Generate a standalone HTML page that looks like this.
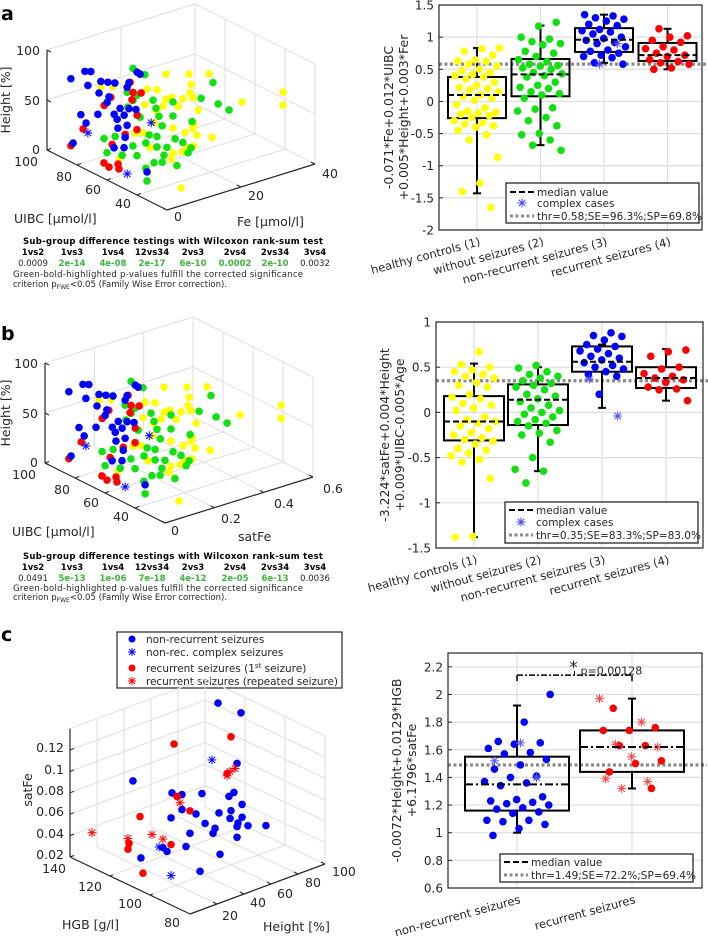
<!DOCTYPE html>
<html><head><meta charset="utf-8">
<style>
body{margin:0;background:#fff}
svg{display:block;font-family:"DejaVu Sans","Liberation Sans",sans-serif;fill:#262626}
.t{font-size:12.5px}
.s{font-size:8.5px}
.b{font-weight:bold}
.g{fill:#3cb43c;font-weight:bold}
.lg{font-size:10.5px}
</style></head><body>
<svg id="fig" width="708" height="936" viewBox="0 0 708 936">
<rect x="0" y="0" width="708" height="936" fill="#fff"/>
<text x="1" y="20" font-size="19" font-weight="bold" fill="#000">a</text>
<text x="1" y="340" font-size="19" font-weight="bold" fill="#000">b</text>
<text x="1" y="641" font-size="19" font-weight="bold" fill="#000">c</text>

<g class="t">
<text x="40" y="55" text-anchor="end">100</text><text x="40" y="105" text-anchor="end">50</text><text x="40" y="154" text-anchor="end">0</text>
<text x="38" y="166" text-anchor="end">100</text><text x="72" y="181" text-anchor="end">80</text><text x="101" y="194" text-anchor="end">60</text><text x="131" y="208" text-anchor="end">40</text>
<text x="174" y="221">0</text><text x="248" y="200">20</text><text x="322" y="178">40</text>
</g>
<text class="t" transform="translate(10,100) rotate(-90)" text-anchor="middle">Height [%]</text>
<text class="t" x="14" y="223">UIBC [μmol/l]</text>
<text class="t" x="237" y="226">Fe [μmol/l]</text>

<g>
<text class="s b" x="173" y="244" text-anchor="middle" textLength="300" fill="#000">Sub-group difference testings with Wilcoxon rank-sum test</text>
<g class="s b" text-anchor="middle" fill="#000"><text x="33" y="255">1vs2</text><text x="72" y="255">1vs3</text><text x="113" y="255">1vs4</text><text x="152" y="255">12vs34</text><text x="193" y="255">2vs3</text><text x="235" y="255">2vs4</text><text x="275" y="255">2vs34</text><text x="315" y="255">3vs4</text></g>
<g class="s" text-anchor="middle"><text x="33" y="266">0.0009</text><text class="g" x="72" y="266">2e-14</text><text class="g" x="113" y="266">4e-08</text><text class="g" x="152" y="266">2e-17</text><text class="g" x="193" y="266">6e-10</text><text class="g" x="235" y="266">0.0002</text><text class="g" x="275" y="266">2e-10</text><text x="315" y="266">0.0032</text></g>
<text class="s" x="13" y="277" textLength="290">Green-bold-highlighted p-values fulfill the corrected significance</text>
<text class="s" x="13" y="287">criterion p<tspan font-size="6" dy="2">FWE</tspan><tspan dy="-2">&lt;0.05 (Family Wise Error correction).</tspan></text>
</g>

<g class="t">
<text x="38" y="368" text-anchor="end">100</text><text x="38" y="418" text-anchor="end">50</text><text x="38" y="467" text-anchor="end">0</text>
<text x="36" y="479" text-anchor="end">100</text><text x="70" y="494" text-anchor="end">80</text><text x="99" y="507" text-anchor="end">60</text><text x="129" y="521" text-anchor="end">40</text>
<text x="171" y="535">0</text><text x="221" y="523">0.2</text><text x="274" y="508">0.4</text><text x="323" y="493">0.6</text>
</g>
<text class="t" transform="translate(10,413) rotate(-90)" text-anchor="middle">Height [%]</text>
<text class="t" x="12" y="536">UIBC [μmol/l]</text>
<text class="t" x="238" y="541">satFe</text>

<g>
<text class="s b" x="173" y="559" text-anchor="middle" textLength="300" fill="#000">Sub-group difference testings with Wilcoxon rank-sum test</text>
<g class="s b" text-anchor="middle" fill="#000"><text x="33" y="570">1vs2</text><text x="72" y="570">1vs3</text><text x="113" y="570">1vs4</text><text x="152" y="570">12vs34</text><text x="193" y="570">2vs3</text><text x="235" y="570">2vs4</text><text x="275" y="570">2vs34</text><text x="315" y="570">3vs4</text></g>
<g class="s" text-anchor="middle"><text x="33" y="581">0.0491</text><text class="g" x="72" y="581">5e-13</text><text class="g" x="113" y="581">1e-06</text><text class="g" x="152" y="581">7e-18</text><text class="g" x="193" y="581">4e-12</text><text class="g" x="235" y="581">2e-05</text><text class="g" x="275" y="581">6e-13</text><text x="315" y="581">0.0036</text></g>
<text class="s" x="13" y="591" textLength="290">Green-bold-highlighted p-values fulfill the corrected significance</text>
<text class="s" x="13" y="600">criterion p<tspan font-size="6" dy="2">FWE</tspan><tspan dy="-2">&lt;0.05 (Family Wise Error correction).</tspan></text>
</g>

<g class="t">
<text x="64" y="859" text-anchor="end">0.02</text><text x="64" y="838" text-anchor="end">0.04</text><text x="64" y="816" text-anchor="end">0.06</text><text x="64" y="795" text-anchor="end">0.08</text><text x="64" y="774" text-anchor="end">0.1</text><text x="64" y="752" text-anchor="end">0.12</text>
<text x="66" y="873" text-anchor="end">140</text><text x="102" y="891" text-anchor="end">120</text><text x="142" y="908" text-anchor="end">100</text><text x="180" y="927" text-anchor="end">80</text>
<text x="222" y="920">20</text><text x="250" y="907">40</text><text x="277" y="898">60</text><text x="305" y="887">80</text><text x="332" y="876">100</text>
</g>
<text class="t" transform="translate(32,790) rotate(-90)" text-anchor="middle">satFe</text>
<text class="t" x="62" y="929">HGB [g/l]</text>
<text class="t" x="263" y="931">Height [%]</text>

<g>
<rect x="117" y="632" width="225" height="56" fill="#fff" stroke="#262626" stroke-width="1.2"/>
<circle cx="132" cy="639" r="3.5" fill="#00f"/>
<g stroke="#00f" stroke-width="1"><line x1="128" y1="652" x2="136" y2="652"/><line x1="132" y1="648" x2="132" y2="656"/><line x1="129" y1="649" x2="135" y2="655"/><line x1="135" y1="649" x2="129" y2="655"/></g>
<circle cx="132" cy="668" r="3.5" fill="#f00"/>
<g stroke="#f00" stroke-width="1"><line x1="128" y1="681" x2="136" y2="681"/><line x1="132" y1="677" x2="132" y2="685"/><line x1="129" y1="678" x2="135" y2="684"/><line x1="135" y1="678" x2="129" y2="684"/></g>
<g class="lg"><text x="146" y="643">non-recurrent seizures</text><text x="146" y="656">non-rec. complex seizures</text><text x="146" y="672">recurrent seizures (1<tspan font-size="7" dy="-4">st</tspan><tspan dy="4"> seizure)</tspan></text><text x="146" y="685" textLength="192">recurrent seizures (repeated seizure)</text></g>
</g>
<g id="dyn"></g>
</svg>
<script>
const aVals1=[0.83,0.82,0.78,0.72,0.65,0.63,0.62,0.58,0.55,0.5,0.48,0.45,0.42,0.4,0.38,0.35,0.3,0.25,0.22,0.2,0.18,0.15,0.1,0.08,0.05,0.02,-0.05,-0.1,-0.15,-0.17,-0.18,-0.2,-0.22,-0.25,-0.3,-0.33,-0.35,-0.38,-0.4,-0.45,-0.52,-0.6,-0.87,-1.27,-1.4,-1.65];
const aVals2=[1.23,1.17,1.0,0.97,0.93,0.9,0.88,0.78,0.75,0.7,0.65,0.62,0.58,0.56,0.55,0.52,0.5,0.45,0.43,0.4,0.38,0.3,0.25,0.22,0.2,0.15,0.12,0.1,0.05,-0.1,-0.12,-0.15,-0.25,-0.3,-0.38,-0.5,-0.52,-0.6,-0.68,-0.76];
const aVals3=[1.35,1.33,1.3,1.28,1.25,1.2,1.18,1.12,1.1,1.08,1.05,1.0,0.98,0.95,0.92,0.9,0.85,0.8,0.78,0.75,0.72,0.7,0.68,0.6,0.58];
const aVals4=[1.13,1.02,1.0,0.95,0.92,0.85,0.82,0.8,0.75,0.72,0.7,0.65,0.62,0.6,0.58,0.52,0.5];
const aStarVals=[0.9,0.58];
const aQ1=[-0.26,0.08,0.77,0.63], aMed=[0.1,0.42,0.96,0.72], aQ3=[0.38,0.66,1.14,0.91], aWlo=[-1.43,-0.68,0.6,0.5], aWhi=[0.83,1.18,1.35,1.13];
const aThr=0.58;
const aYTicks=[-2,-1.5,-1,-0.5,0,0.5,1,1.5];
const aYTickLabels=['-2','-1.5','-1','-0.5','0','0.5','1','1.5'];

const bVals1=[0.67,0.53,0.5,0.47,0.45,0.42,0.4,0.38,0.33,0.3,0.28,0.2,0.17,0.15,0.1,0.08,0.05,0.02,-0.05,-0.08,-0.1,-0.12,-0.15,-0.18,-0.22,-0.25,-0.28,-0.3,-0.32,-0.35,-0.4,-0.42,-0.45,-0.48,-0.52,-0.55,-0.73,-1.37,-1.38];
const bVals2=[0.52,0.49,0.45,0.42,0.4,0.38,0.35,0.32,0.3,0.28,0.25,0.2,0.18,0.15,0.12,0.08,0.05,0.02,0,-0.02,-0.05,-0.08,-0.1,-0.12,-0.15,-0.2,-0.23,-0.25,-0.33,-0.5,-0.63,-0.65,-0.78];
const bVals3=[0.88,0.85,0.84,0.8,0.75,0.73,0.7,0.68,0.65,0.62,0.6,0.58,0.55,0.52,0.5,0.48,0.45,0.42,0.4,0.2];
const bVals4=[0.69,0.67,0.62,0.5,0.48,0.43,0.4,0.38,0.36,0.33,0.28,0.26,0.25,0.13];
const bStarVals=[0.37,-0.04];
const bQ1=[-0.31,-0.14,0.45,0.27], bMed=[-0.1,0.14,0.56,0.38], bQ3=[0.18,0.31,0.73,0.5], bWlo=[-1.38,-0.65,0.05,0.13], bWhi=[0.54,0.5,0.75,0.7];
const bThr=0.35;
const bYTicks=[-1.5,-1,-0.5,0,0.5,1];
const bYTickLabels=['-1.5','-1','-0.5','0','0.5','1'];

const cNonVals=[2.0,1.8,1.66,1.65,1.64,1.61,1.58,1.57,1.53,1.49,1.46,1.41,1.4,1.37,1.36,1.34,1.26,1.24,1.23,1.22,1.21,1.2,1.18,1.17,1.15,1.14,1.09,1.09,1.08,1.06,1.03,0.98];
const cNonStarVals=[1.65,1.52,1.4];
const cRecVals=[1.9,1.76,1.74,1.74,1.63,1.63,1.52,1.5,1.44,1.32];
const cRecStarVals=[1.97,1.8,1.64,1.62,1.55,1.39,1.37,1.32];
const cQ1=[1.16,1.44], cMed=[1.35,1.62], cQ3=[1.55,1.74], cWlo=[1.0,1.32], cWhi=[1.92,1.97];
const cThr=1.49;
const cYTicks=[0.6,0.8,1,1.2,1.4,1.6,1.8,2,2.2];
const cYTickLabels=['0.6','0.8','1','1.2','1.4','1.6','1.8','2','2.2'];

const blueU=[90,90,90,90,90,90,90,90,90,90,90,90,90,90,90,90,90,90,90,90,90,90,90,90,90,60,60,60,90,40];
const blueH=[76,79,77,64,64,61,58,53,46,41,54,50,62,59,37,27,32,27,31,28,25,21,23,12,12,37,30,27,11,20];
const aBlueFe=[2.4,6.2,7.8,7.0,10.5,12.4,14.3,10,12.7,12.2,18.1,17.6,20.3,21.1,5.1,6.5,9.7,14.1,15.7,18.1,20,14.9,16.8,15.1,17.6,4.9,1.9,4.6,3,2.7];
const bBlueSat=[0.036,0.093,0.117,0.105,0.158,0.186,0.215,0.15,0.19,0.183,0.272,0.264,0.305,0.317,0.077,0.098,0.146,0.212,0.236,0.272,0.3,0.224,0.252,0.227,0.264,0.074,0.029,0.069,0.045,0.041];
const blueStarU=[90,90,50], blueStarH=[16.5,7,12];
const aBlueStarFe=[7,24.1,1.4], bBlueStarSat=[0.105,0.362,0.021];
const redU=[90,90,90,90,90,90,90,90,60,60,60,64.5,61.1,55.1,54.5,90];
const redH=[9,22,39,45,54,43,40,19,41,40,34,12.5,11,18.5,14,36];
const aRedFe=[2.4,5.7,11.4,13.2,18.4,19.2,21.4,20.3,8.1,4.9,1.4,1,1,1,1,18.9];
const bRedSat=[0.036,0.086,0.171,0.198,0.276,0.288,0.321,0.305,0.122,0.074,0.021,0.015,0.015,0.015,0.015,0.284];
const greenU=[90,90,90,90,90,60,90,90,90,90,90,90,90,60,90,60,80,60,60,60,60,60,60,60,60,80,60,60,60,60,60,40,40,40,40,40,60,90,90];
const greenH=[67,57,28,16,5,32,29,21,20,30,35,16,11,37,7,32,18,41,32,28,20,14,26,25,15,3,7,17.5,14,2,6,27,25,17,24,11,20,39,45];
const aGreenFe=[19.2,22.4,40.8,37.6,42.2,33,24.6,30,25.4,17.8,19.2,21.1,26.2,14.9,30,23,7.3,2.2,11.4,13.5,18.4,20.5,7,10.5,8.1,8.1,15.4,13.5,16.2,21.9,22.7,4.6,6.8,10.8,2.4,2.7,4.1,20.3,17.6];
const bGreenSat=[0.288,0.336,0.612,0.564,0.633,0.495,0.369,0.45,0.381,0.267,0.288,0.317,0.393,0.224,0.45,0.345,0.11,0.033,0.171,0.203,0.276,0.308,0.105,0.158,0.122,0.122,0.231,0.203,0.243,0.329,0.341,0.069,0.102,0.162,0.036,0.041,0.062,0.305,0.264];
const yellowU=[90,90,90,90,90,90,90,90,90,90,90,90,90,90,90,60,60,60,60,60,60,60,60,60,60,60,60,40,40,20,90,60,60,60,51.3,90,90,90,60];
const yellowH=[51,44,38,33,25,19,21,26,26,38,42,27,20,15,5,36,33,20,31.5,28,25,23,17,10,7,8,6.5,25,17,17.6,6,36,38,19,28.5,18,55,58,5];
const aYellowFe=[28.1,34.3,39.7,34.9,34.6,35.4,32.7,28.1,29.7,25.7,23,22.4,27.3,31.4,36.8,36.5,47.6,47.6,17.8,23.5,23.2,21.1,24.3,28.4,23.5,21.6,17.8,9.2,10.8,3.8,24.9,9.7,7.6,11.6,0,25.4,13.8,10.5,20.3];
const bYellowSat=[0.422,0.515,0.596,0.524,0.519,0.531,0.491,0.422,0.446,0.386,0.345,0.336,0.41,0.471,0.552,0.548,0.714,0.714,0.267,0.353,0.348,0.317,0.365,0.426,0.353,0.324,0.267,0.138,0.162,0.057,0.374,0.146,0.114,0.174,0,0.381,0.207,0.158,0.305];

const cBlueHt=[65.2,82.2,24.4,79.3,31.1,38.5,53.3,73.3,77,83,38.5,48.9,65.9,74.8,30.4,55.6,74.1,83,80,79.3,87.4,100.7,63,61.5,44.4,79.3,41.5,24.4,27.4,66.7,8.1,51.9];
const cBlueHGB=[110,110,125,110,110,110,110,110,110,110,110,110,110,110,110,110,110,110,110,110,110,110,110,110,110,110,110,110,110,110,110,110];
const cBlueSat=[0.160,0.143,0.093,0.097,0.092,0.087,0.081,0.069,0.071,0.057,0.073,0.064,0.057,0.055,0.069,0.052,0.048,0.045,0.041,0.038,0.035,0.029,0.044,0.040,0.048,0.028,0.037,0.044,0.039,0.018,0.042,0.009];
const cBlueStarHt=[60.7,21.5,30.4], cBlueStarHGB=[110,110,110], cBlueStarSat=[0.109,0.046,0.015];
const cRedHt=[32.6,74.8,7.4,34.8,44.4,71.9,21.5,20.7,30.4,9.6];
const cRedHGB=[110,110,110,110,110,110,125,125,110,110];
const cRedSat=[0.137,0.124,0.081,0.087,0.069,0.091,0.036,0.031,0.044,0.027];
const cRedStarHt=[77.8,74.1,37,8.9,20.7,16.3,24.4,71.9];
const cRedStarHGB=[110,110,110,135,125,110,110,110];
const cRedStarSat=[0.093,0.092,0.080,0.043,0.041,0.060,0.052,0.089];

const NS='http://www.w3.org/2000/svg';
const root=document.getElementById('dyn');
function mk(tag,attrs,name,parent){
  const el=document.createElementNS(NS,tag);
  for(const k in attrs) el.setAttribute(k,attrs[k]);
  
  
  (parent||root).appendChild(el);
  return el;
}
function ln(p,q,stroke,w,name,parent,dash){
  const a={x1:p[0],y1:p[1],x2:q[0],y2:q[1],stroke:stroke,'stroke-width':w};
  if(dash) a['stroke-dasharray']=dash;
  return mk('line',a,name,parent);
}
function dot(p,r,col,name,parent){return mk('circle',{cx:p[0],cy:p[1],r:r,fill:col},name,parent);}
function star(p,r,col,name,parent){
  const g=mk('g',{stroke:col,'stroke-width':1},name,parent);
  const d=r*0.72;
  ln([p[0]-r,p[1]],[p[0]+r,p[1]],col,1,'star-stroke',g);
  ln([p[0],p[1]-r],[p[0],p[1]+r],col,1,'star-stroke',g);
  ln([p[0]-d,p[1]-d],[p[0]+d,p[1]+d],col,1,'star-stroke',g);
  ln([p[0]+d,p[1]-d],[p[0]-d,p[1]+d],col,1,'star-stroke',g);
  return g;
}
function txt(x,y,s,size,anchor,name,parent,tr){
  const a={x:x,y:y,'font-size':size,'text-anchor':anchor||'start'};
  if(tr) a.transform=tr;
  const t=mk('text',a,name,parent); t.textContent=s; return t;
}
function jit(i,spread){return ((((i+1)*0.61803398875+0.37)%1)-0.5)*2*spread;}
const GRID='#dedede', AX='#262626';
const GREEN='#11e011';

function Pa(U,F,H){return [47+1.5*(100-U)+3.7*F, 150+0.75*(100-U)-1.15*F-H];}
function Pb(U,S,H){return [45+1.5*(100-U)+246.67*S, 463+0.75*(100-U)-76.67*S-H];}
function draw3dAB(P,fmax,ticksF,pre){
  const g=mk('g',{},pre+'-3d-axes');
  [40,60,80].forEach(U=>ln(P(U,0,0),P(U,fmax,0),GRID,1,pre+'-floor-grid',g));
  ticksF.slice(1).forEach(F=>ln(P(100,F,0),P(20,F,0),GRID,1,pre+'-floor-grid',g));
  [50,100].forEach(H=>{ln(P(100,0,H),P(100,fmax,H),GRID,1,pre+'-wall-grid',g);ln(P(100,fmax,H),P(20,fmax,H),GRID,1,pre+'-wall-grid',g);});
  ticksF.slice(1).forEach(F=>ln(P(100,F,0),P(100,F,100),GRID,1,pre+'-wall-grid',g));
  [80,60,40,20].forEach(U=>ln(P(U,fmax,0),P(U,fmax,100),GRID,1,pre+'-wall-grid',g));
  ln(P(100,0,0),P(100,0,100),AX,1.2,pre+'-height-axis',g);
  ln(P(100,0,0),P(20,0,0),AX,1.2,pre+'-uibc-axis',g);
  ln(P(20,0,0),P(20,fmax,0),AX,1.2,pre+'-x-axis',g);
  [0,50,100].forEach(H=>{const p=P(100,0,H);ln(p,[p[0]+4,p[1]+2],AX,1,pre+'-tick',g);});
  [40,60,80,100].forEach(U=>{const p=P(U,0,0);ln(p,[p[0]+4,p[1]-1.5],AX,1,pre+'-tick',g);});
  ticksF.forEach(F=>{const p=P(20,F,0);ln(p,[p[0]-4,p[1]-2],AX,1,pre+'-tick',g);});
}
draw3dAB(Pa,40,[0,20,40],'a');
draw3dAB(Pb,0.6,[0,0.2,0.4,0.6],'b');

function scatter3(P,xs,us,hs,col,isStar,name){
  const g=mk('g',{},name);
  for(let i=0;i<xs.length;i++){
    const p=P(us[i],xs[i],hs[i]);
    if(isStar) star(p,4.5,col,'star-point',g); else dot(p,3.8,col,'dot-point',g);
  }
}
scatter3(Pa,aYellowFe,yellowU,yellowH,'#ffff00',false,'a3d-healthy-controls');
scatter3(Pa,aGreenFe,greenU,greenH,GREEN,false,'a3d-without-seizures');
scatter3(Pa,aRedFe,redU,redH,'#ff0000',false,'a3d-recurrent');
scatter3(Pa,aBlueFe,blueU,blueH,'#0000ff',false,'a3d-non-recurrent');
scatter3(Pa,aBlueStarFe,blueStarU,blueStarH,'#0000ff',true,'a3d-complex-cases');
scatter3(Pb,bYellowSat,yellowU,yellowH,'#ffff00',false,'b3d-healthy-controls');
scatter3(Pb,bGreenSat,greenU,greenH,GREEN,false,'b3d-without-seizures');
scatter3(Pb,bRedSat,redU,redH,'#ff0000',false,'b3d-recurrent');
scatter3(Pb,bBlueSat,blueU,blueH,'#0000ff',false,'b3d-non-recurrent');
scatter3(Pb,bBlueStarSat,blueStarU,blueStarH,'#0000ff',true,'b3d-complex-cases');

function Pc(H,G,S){return [70+2*(140-G)+1.35*H, 857+0.95*(140-G)-0.5*H-1070*(S-0.02)];}
(function(){
  const g=mk('g',{},'c-3d-axes');
  const sT=[0.04,0.06,0.08,0.1,0.12,0.14];
  [80,100,120].forEach(G=>ln(Pc(0,G,.02),Pc(100,G,.02),GRID,1,'c-floor-grid',g));
  [20,40,60,80,100].forEach(H=>ln(Pc(H,80,.02),Pc(H,140,.02),GRID,1,'c-floor-grid',g));
  sT.forEach(S=>{ln(Pc(0,140,S),Pc(100,140,S),GRID,1,'c-wall-grid',g);ln(Pc(100,140,S),Pc(100,80,S),GRID,1,'c-wall-grid',g);});
  [20,40,60,80,100].forEach(H=>ln(Pc(H,140,.02),Pc(H,140,.14),GRID,1,'c-wall-grid',g));
  [80,100,120].forEach(G=>ln(Pc(100,G,.02),Pc(100,G,.14),GRID,1,'c-wall-grid',g));
  ln(Pc(0,140,.02),Pc(0,140,.14),AX,1.2,'c-satfe-axis',g);
  ln(Pc(0,140,.02),Pc(0,80,.02),AX,1.2,'c-hgb-axis',g);
  ln(Pc(0,80,.02),Pc(100,80,.02),AX,1.2,'c-height-axis',g);
  [0.02,0.04,0.06,0.08,0.1,0.12].forEach(S=>{const p=Pc(0,140,S);ln(p,[p[0]+4,p[1]-1.5],AX,1,'c-tick',g);});
  [80,100,120,140].forEach(G=>{const p=Pc(0,G,.02);ln(p,[p[0]+3,p[1]-1.2],AX,1,'c-tick',g);});
  [20,40,60,80,100].forEach(H=>{const p=Pc(H,80,.02);ln(p,[p[0]-4,p[1]-2],AX,1,'c-tick',g);});
})();
function scatterC(hs,gs,ss,col,isStar,name){
  const g=mk('g',{},name);
  for(let i=0;i<hs.length;i++){
    const p=Pc(hs[i],gs[i],ss[i]);
    if(isStar) star(p,4.5,col,'star-point',g); else dot(p,3.8,col,'dot-point',g);
  }
}
scatterC(cBlueHt,cBlueHGB,cBlueSat,'#0000ff',false,'c3d-non-recurrent');
scatterC(cBlueStarHt,cBlueStarHGB,cBlueStarSat,'#0000ff',true,'c3d-non-rec-complex');
scatterC(cRedHt,cRedHGB,cRedSat,'#ff0000',false,'c3d-recurrent-first');
scatterC(cRedStarHt,cRedStarHGB,cRedStarSat,'#ff0000',true,'c3d-recurrent-repeated');

function boxplot(o){
  const g=mk('g',{},o.pre+'-boxplot');
  const Y=v=>o.y1-(v-o.ymin)/(o.ymax-o.ymin)*(o.y1-o.y0);
  const X=c=>o.xa+(c-1)*o.dx;
  mk('rect',{x:o.x0,y:o.y0,width:o.x1-o.x0,height:o.y1-o.y0,fill:'#fff'},o.pre+'-plot-area',g);
  o.ticks.forEach((t,i)=>{
    const y=Y(t);
    ln([o.x0,y],[o.x1,y],GRID,1.2,o.pre+'-y-grid',g);
    ln([o.x0,y],[o.x0+4,y],AX,1,o.pre+'-y-tick',g);
    txt(o.x0-5,y+4.5,o.tickLabels[i],12,'end',o.pre+'-y-tick-label',g);
  });
  for(let c=1;c<=o.q1.length;c++) ln([X(c),o.y0],[X(c),o.y1],GRID,1.2,o.pre+'-x-grid',g);
  ln([o.x0,Y(o.thr)],[o.x1+5,Y(o.thr)],'#8a8a8a',3.2,o.pre+'-threshold-line',g,'3 2.5');
  for(let i=0;i<o.q1.length;i++){
    const c=X(i+1);
    const bg=mk('g',{},o.pre+'-box-'+(i+1),g);
    ln([c,Y(o.wlo[i])],[c,Y(o.q1[i])],'#000',2,'whisker-low',bg);
    ln([c,Y(o.q3[i])],[c,Y(o.whi[i])],'#000',2,'whisker-high',bg);
    ln([c-4,Y(o.wlo[i])],[c+4,Y(o.wlo[i])],'#000',2,'whisker-cap',bg);
    ln([c-4,Y(o.whi[i])],[c+4,Y(o.whi[i])],'#000',2,'whisker-cap',bg);
    mk('rect',{x:c-o.hw,y:Y(o.q3[i]),width:2*o.hw,height:Y(o.q1[i])-Y(o.q3[i]),fill:'none',stroke:'#000','stroke-width':2},'box',bg);
  }
  o.groups.forEach(gr=>{
    const pg=mk('g',{},gr.name,g);
    gr.vals.forEach((v,i)=>{
      const p=[X(gr.cat)+jit(i+gr.seed,o.spread),Y(v)];
      if(gr.star) star(p,4.5,gr.col,'star-point',pg); else dot(p,3.8,gr.col,'dot-point',pg);
    });
  });
  for(let i=0;i<o.q1.length;i++){
    const c=X(i+1);
    ln([c-o.hw,Y(o.med[i])],[c+o.hw,Y(o.med[i])],'#000',2,o.pre+'-median-'+(i+1),g,o.medDash);
  }
  mk('rect',{x:o.x0,y:o.y0,width:o.x1-o.x0,height:o.y1-o.y0,fill:'none',stroke:AX,'stroke-width':1.2},o.pre+'-axes-frame',g);
  o.cats.forEach((s,i)=>{
    const cx=X(i+1)+4, cy=o.y1+15;
    txt(cx,cy,s,11.5,'end',o.pre+'-x-tick-label',g,'rotate(-15 '+cx+' '+cy+')');
  });
  const ym=(o.y0+o.y1)/2;
  txt(o.ylx1,ym,o.yl1,12.5,'middle',o.pre+'-y-axis-title',g,'rotate(-90 '+o.ylx1+' '+ym+')');
  txt(o.ylx2,ym,o.yl2,12.5,'middle',o.pre+'-y-axis-title',g,'rotate(-90 '+o.ylx2+' '+ym+')');
  return {X,Y,g};
}
const cats4=['healthy controls (1)','without seizures (2)','non-recurrent seizures (3)','recurrent seizures (4)'];
boxplot({pre:'a',x0:439,x1:702,y0:5,y1:230,ymin:-2,ymax:1.5,xa:477,dx:63.5,hw:29,spread:23,medDash:'6 3',
  ticks:aYTicks,tickLabels:aYTickLabels,q1:aQ1,med:aMed,q3:aQ3,wlo:aWlo,whi:aWhi,thr:aThr,cats:cats4,
  yl1:'-0.071*Fe+0.012*UIBC',yl2:'+0.005*Height+0.003*Fer',ylx1:393,ylx2:408,
  groups:[{vals:aVals1,cat:1,col:'#ffff00',name:'a-healthy-points',seed:0},{vals:aVals2,cat:2,col:GREEN,name:'a-without-points',seed:3},
          {vals:aVals3,cat:3,col:'#0000ff',name:'a-nonrec-points',seed:5},{vals:aVals4,cat:4,col:'#ff0000',name:'a-rec-points',seed:7},
          {vals:aStarVals,cat:3,col:'#4a4aff',star:true,name:'a-complex-points',seed:11}]});
boxplot({pre:'b',x0:436,x1:703,y0:322,y1:548,ymin:-1.5,ymax:1,xa:474,dx:64,hw:30,spread:23,medDash:'6 3',
  ticks:bYTicks,tickLabels:bYTickLabels,q1:bQ1,med:bMed,q3:bQ3,wlo:bWlo,whi:bWhi,thr:bThr,cats:cats4,
  yl1:'-3.224*satFe+0.004*Height',yl2:'+0.009*UIBC-0.005*Age',ylx1:389,ylx2:404,
  groups:[{vals:bVals1,cat:1,col:'#ffff00',name:'b-healthy-points',seed:1},{vals:bVals2,cat:2,col:GREEN,name:'b-without-points',seed:4},
          {vals:bVals3,cat:3,col:'#0000ff',name:'b-nonrec-points',seed:6},{vals:bVals4,cat:4,col:'#ff0000',name:'b-rec-points',seed:8},
          {vals:bStarVals,cat:3,col:'#4a4aff',star:true,name:'b-complex-points',seed:2}]});
const cb=boxplot({pre:'c',x0:448,x1:702,y0:653,y1:888,ymin:0.6,ymax:2.3,xa:517,dx:115,hw:52,spread:34,medDash:'8 3 2 3',
  ticks:cYTicks,tickLabels:cYTickLabels,q1:cQ1,med:cMed,q3:cQ3,wlo:cWlo,whi:cWhi,thr:cThr,cats:['non-recurrent seizures','recurrent seizures'],
  yl1:'-0.0072*Height+0.0129*HGB',yl2:'+6.1796*satFe',ylx1:401,ylx2:416,
  groups:[{vals:cNonVals,cat:1,col:'#0000ff',name:'c-nonrec-points',seed:0},{vals:cNonStarVals,cat:1,col:'#5555ff',star:true,name:'c-nonrec-complex-points',seed:9},
          {vals:cRecVals,cat:2,col:'#ff0000',name:'c-rec-points',seed:2},{vals:cRecStarVals,cat:2,col:'#ff4040',star:true,name:'c-rec-repeated-points',seed:13}]});
(function(){
  const X=cb.X,Y=cb.Y;
  const g=mk('g',{},'c-significance-bracket');
  ln([X(1),Y(2.14)],[X(2),Y(2.14)],'#000',1.5,'bracket-top',g,'6 2 2 2');
  ln([X(1),Y(2.14)],[X(1),Y(2.09)],'#000',1.5,'bracket-left',g,'6 2 2 2');
  ln([X(2),Y(2.14)],[X(2),Y(2.09)],'#000',1.5,'bracket-right',g,'6 2 2 2');
  ln([(X(1)+X(2))/2,Y(2.14)],[(X(1)+X(2))/2,Y(2.17)],'#000',1,'bracket-mid',g);
  txt((X(1)+X(2))/2-1,Y(2.2)+6,'*',17,'middle','significance-star',g);
  txt((X(1)+X(2))/2+6,Y(2.18)+5,'p=0.00128',11,'start','p-value-label',g);
})();
</script>
<script>
(function(){
  const fig=document.getElementById('fig');
  function leg(x,y,w,h,rows,name){
    const g=document.createElementNS(NS,'g');
    
    
    fig.appendChild(g);
    mk('rect',{x:x,y:y,width:w,height:h,fill:'#fff',stroke:AX,'stroke-width':1.3},'legend-box',g);
    rows.forEach(r=>{
      if(r.type==='median') ln([x+4,r.y],[x+28,r.y],'#000',2,'legend-median-line',g,r.dash);
      if(r.type==='thr') ln([x+4,r.y],[x+28,r.y],'#8a8a8a',3,'legend-threshold-line',g,'3 2.5');
      if(r.type==='star') star([x+16,r.y],4.5,'#4a4aff','legend-star',g);
      txt(x+31,r.y+4,r.label,10.5,'start','legend-label',g);
    });
  }
  leg(506,183,193,40,[{type:'median',y:192,label:'median value',dash:'6 3'},{type:'star',y:203,label:'complex cases'},{type:'thr',y:216,label:'thr=0.58;SE=96.3%;SP=69.8%'}],'a-legend');
  leg(505,502,193,41,[{type:'median',y:510,label:'median value',dash:'6 3'},{type:'star',y:522,label:'complex cases'},{type:'thr',y:535,label:'thr=0.35;SE=83.3%;SP=83.0%'}],'b-legend');
  leg(500,854,193,28,[{type:'median',y:862,label:'median value',dash:'6 3'},{type:'thr',y:875,label:'thr=1.49;SE=72.2%;SP=69.4%'}],'c-legend');
})();
</script>
</body></html>
